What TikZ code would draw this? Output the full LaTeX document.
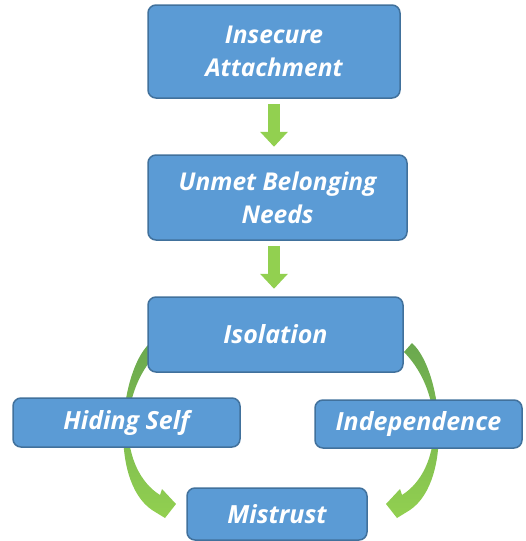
\documentclass[tikz,border=0pt]{standalone}
\usepackage{fontspec}
\setmainfont{Open Sans}
\usetikzlibrary{arrows.meta}
\definecolor{boxblue}{HTML}{5B9BD5}
\definecolor{boxedge}{HTML}{41719C}
\definecolor{arrowgreen}{HTML}{92D050}
\definecolor{arcdark}{HTML}{6AA84F}

\begin{document}
\begin{tikzpicture}[x=1pt, y=-1pt,
    stage/.style={draw=boxedge, fill=boxblue, line width=1.5pt, rounded corners=8pt,
        text=white, align=center, inner sep=0pt,
        font=\fontsize{25}{30}\selectfont\bfseries\itshape},
    twoline/.style={font=\fontsize{24.5}{33}\selectfont\bfseries\itshape},
    downarrow/.style={draw=arrowgreen, line width=12pt,
        -{Triangle[width=27pt,length=15pt]}, shorten <=5pt, shorten >=7.5pt},
    sidearc/.style={top color=arcdark, bottom color=arrowgreen, draw=none}]

    \useasboundingbox (0,0) rectangle (525,541);

    %===========================
    % Curved arrows (behind the boxes)
    %===========================
    \foreach \sx/\dx in {1/0, -1/562}
        \shade[sidearc, xshift=\dx pt, xscale=\sx]
            (150,343) .. controls (120,370) and (108,480) .. (152,510)
            -- (165,518) -- (176,504) -- (162,489) -- (160,495)
            .. controls (120,470) and (116,395) .. (158,352) -- cycle;

    %===========================
    % Boxes
    %===========================
    \node[stage, twoline, minimum width=252pt, minimum height=93pt] (insecure) at (274,51.5) {Insecure\\Attachment};
    \node[stage, twoline, minimum width=259pt, minimum height=85pt] (unmet) at (277.5,197.5) {Unmet Belonging\\Needs};
    \node[stage, minimum width=255pt, minimum height=75pt] (isolation) at (275.5,334.5) {Isolation};

    % Side boxes
    \node[stage, minimum width=227pt, minimum height=49pt] (hiding) at (126.5,422.5) {Hiding Self};
    \node[stage, minimum width=207pt, minimum height=48pt] (independence) at (418.5,424) {Independence};
    \node[stage, minimum width=180pt, minimum height=52pt] (mistrust) at (277,514) {Mistrust};

    %===========================
    % Straight arrows
    %===========================
    \draw[downarrow] (insecure.south) -- (insecure.south |- unmet.north);
    \draw[downarrow] (unmet.south -| insecure.south) -- (insecure.south |- isolation.north);

\end{tikzpicture}
\end{document}
